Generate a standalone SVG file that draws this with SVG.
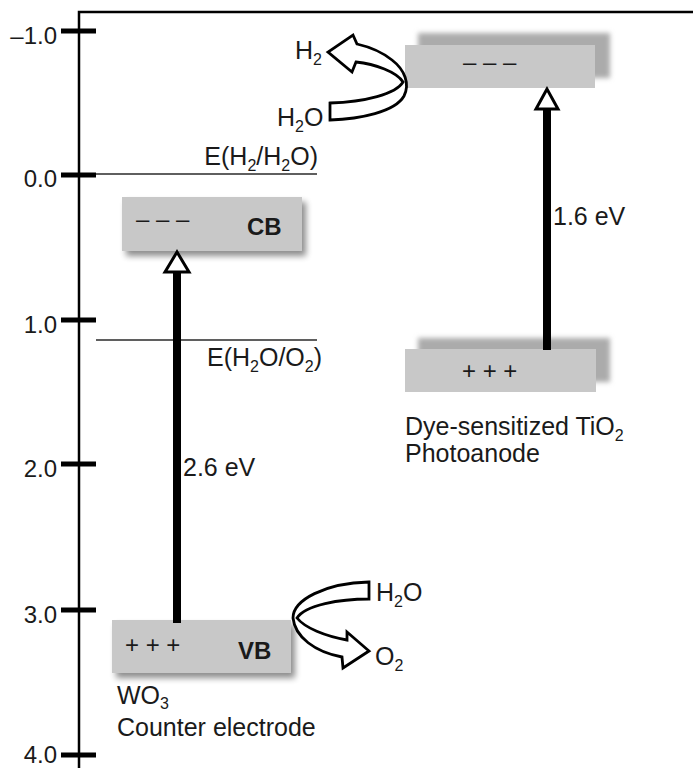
<svg xmlns="http://www.w3.org/2000/svg" width="693" height="768" viewBox="0 0 693 768">
<defs>
<filter id="softShadow" x="-10%" y="-20%" width="130%" height="150%">
<feGaussianBlur in="SourceAlpha" stdDeviation="3"/>
<feOffset dx="4" dy="5" result="b"/>
<feComponentTransfer><feFuncA type="linear" slope="0.45"/></feComponentTransfer>
<feMerge><feMergeNode/><feMergeNode in="SourceGraphic"/></feMerge>
</filter>
<filter id="blur2" x="-10%" y="-20%" width="120%" height="140%">
<feGaussianBlur stdDeviation="2.5"/>
</filter>
</defs>
<style>
text{font-family:"Liberation Sans",Arial,sans-serif;font-size:25px;fill:#1a1a1a}
.t{font-size:24px}
.b{font-weight:bold;font-size:24px}
.sub{font-size:16px}
.box{fill:#c8c8c8}
.shade{fill:#ababab;filter:url(#blur2)}
.axis{stroke:#000;stroke-width:2.5;fill:none}
.tick{stroke:#000;stroke-width:5}
.level{stroke:#2a2a2a;stroke-width:1.6}
.shaft{stroke:#000;stroke-width:8}
.head{fill:#fff;stroke:#000;stroke-width:3;stroke-linejoin:miter}
.curl{fill:#fff;stroke:#000;stroke-width:2.8;stroke-linejoin:miter}
</style>

<g id="axis">
<path class="axis" d="M79,768 V12 H693"/>
<line class="tick" x1="61" y1="31" x2="96" y2="31"/>
<line class="tick" x1="61" y1="175" x2="96" y2="175"/>
<line class="tick" x1="61" y1="320" x2="96" y2="320"/>
<line class="tick" x1="61" y1="464" x2="96" y2="464"/>
<line class="tick" x1="61" y1="610" x2="96" y2="610"/>
<line class="tick" x1="61" y1="755" x2="96" y2="755"/>
<text class="t" x="57" y="44" text-anchor="end">–1.0</text>
<text class="t" x="57" y="187" text-anchor="end">0.0</text>
<text class="t" x="57" y="333" text-anchor="end">1.0</text>
<text class="t" x="57" y="477" text-anchor="end">2.0</text>
<text class="t" x="57" y="623" text-anchor="end">3.0</text>
<text class="t" x="57" y="763" text-anchor="end">4.0</text>
</g>

<g id="level-h2">
<line class="level" x1="96" y1="174" x2="317" y2="174"/>
<text x="318" y="165" text-anchor="end">E(H<tspan class="sub" dy="6">2</tspan><tspan dy="-6">/H</tspan><tspan class="sub" dy="6">2</tspan><tspan dy="-6">O)</tspan></text>
</g>

<g id="level-o2">
<line class="level" x1="96" y1="340" x2="317" y2="340"/>
<text x="207" y="366">E(H<tspan class="sub" dy="6">2</tspan><tspan dy="-6">O/O</tspan><tspan class="sub" dy="6">2</tspan><tspan dy="-6">)</tspan></text>
</g>

<g id="wo3-cb">
<rect class="box" x="122" y="197" width="180" height="54" filter="url(#softShadow)"/>
<text class="t" x="136" y="227">– – –</text>
<text class="b" x="247" y="235">CB</text>
</g>

<g id="wo3-vb">
<rect class="box" x="112" y="620" width="179" height="53" filter="url(#softShadow)"/>
<text class="t" x="125" y="653">+ + +</text>
<text class="b" x="238" y="659">VB</text>
<text x="117" y="704">WO<tspan class="sub" dy="5">3</tspan></text>
<text x="117" y="736">Counter electrode</text>
</g>

<g id="tio2-top">
<rect class="shade" x="418" y="33" width="192" height="45"/>
<rect class="box" x="405" y="45" width="190" height="43"/>
<text class="t" x="463" y="70">– – –</text>
</g>

<g id="tio2-bottom">
<rect class="shade" x="418" y="338" width="192" height="44"/>
<rect class="box" x="405" y="349" width="191" height="43"/>
<text class="t" x="462" y="379">+ + +</text>
<text x="405" y="435">Dye-sensitized TiO<tspan class="sub" dy="6">2</tspan></text>
<text x="405" y="462">Photoanode</text>
</g>

<g id="connectors">
<line class="shaft" x1="177" y1="623" x2="177" y2="270"/>
<polygon class="head" points="177,252 165,272 189,272"/>
<text x="183" y="476">2.6 eV</text>
<line class="shaft" x1="547" y1="350" x2="547" y2="108"/>
<polygon class="head" points="547,89 536,109 558,109"/>
<text x="553" y="225">1.6 eV</text>
<path class="curl" d="M330,103 L330,120 C360,119 395,112 404,96 C410,84 405,70 392,60 C382,52 370,47 357,44 L353,35 L328,52 L352,72 L356,62 C375,64 397,72 403,82 C396,94 365,102 330,103 Z"/>
<text x="295" y="59">H<tspan class="sub" dy="6">2</tspan></text>
<text x="277" y="126">H<tspan class="sub" dy="6">2</tspan><tspan dy="-6">O</tspan></text>
<path class="curl" d="M369,582 L369,599 C340,599 305,605 297,618 C305,628 325,636 347,640 L347,632 L369,651 L343,668 L342,657 C315,652 295,637 293,618 C293,600 325,583 369,582 Z"/>
<text x="376" y="601">H<tspan class="sub" dy="6">2</tspan><tspan dy="-6">O</tspan></text>
<text x="375" y="665">O<tspan class="sub" dy="6">2</tspan></text>
</g>
</svg>
